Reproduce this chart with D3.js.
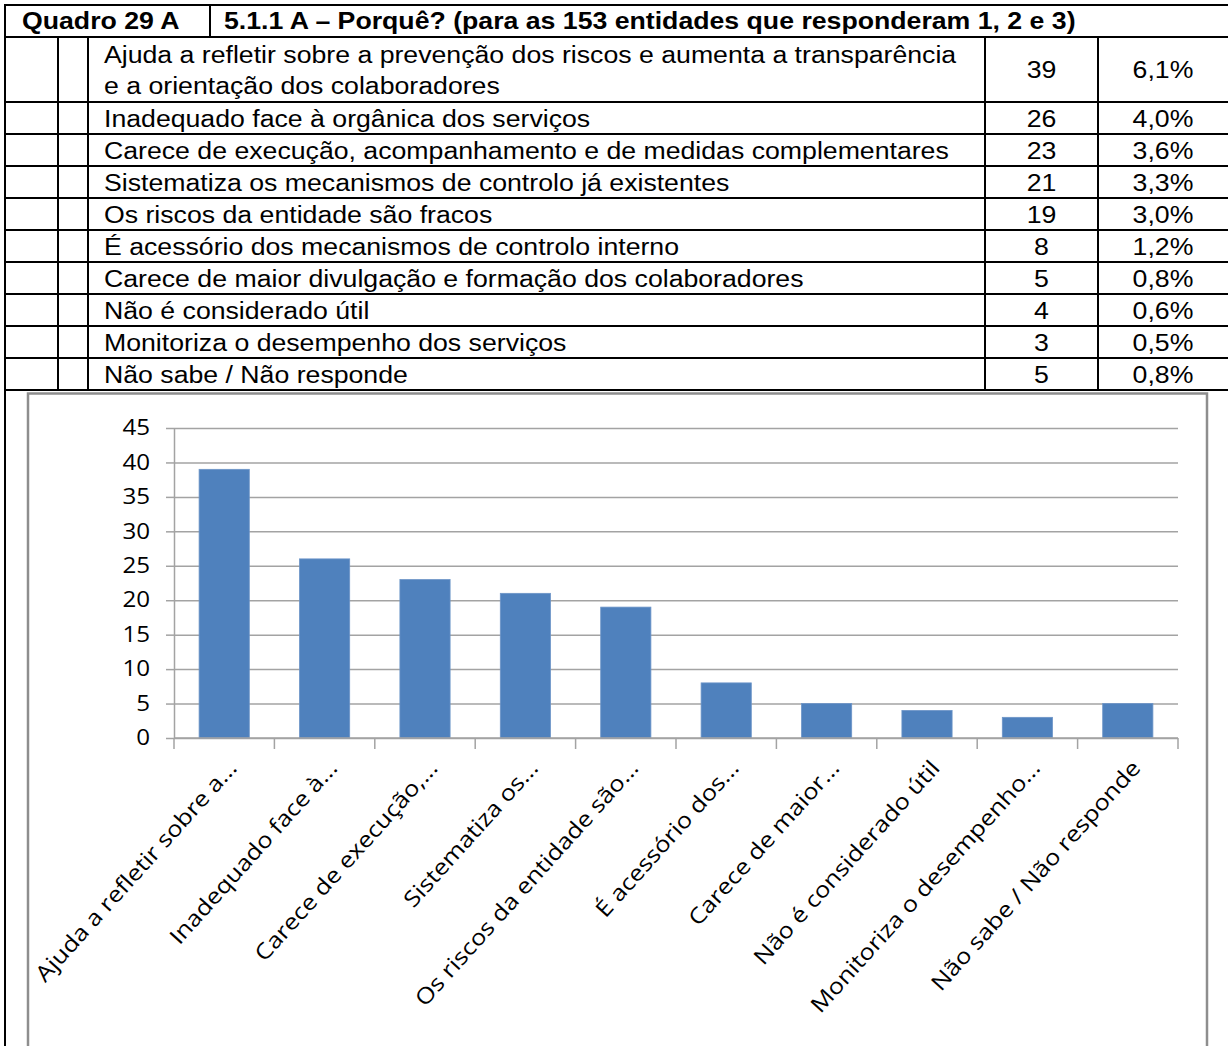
<!DOCTYPE html>
<html><head><meta charset="utf-8">
<script src="https://cdn.jsdelivr.net/npm/d3@7"></script>
<style>body{margin:0;background:#fff} svg{display:block}</style>
</head><body>
<svg id="c" width="1228" height="1046"></svg>
<script>
const tableCode = "Quadro 29 A";
const tableTitle = "5.1.1 A – Porquê? (para as 153 entidades que responderam 1, 2 e 3)";
const categories = [
  "Ajuda a refletir sobre a prevenção dos riscos e aumenta a transparência e a orientação dos colaboradores",
  "Inadequado face à orgânica dos serviços",
  "Carece de execução, acompanhamento e de medidas complementares",
  "Sistematiza os mecanismos de controlo já existentes",
  "Os riscos da entidade são fracos",
  "É acessório dos mecanismos de controlo interno",
  "Carece de maior divulgação e formação dos colaboradores",
  "Não é considerado útil",
  "Monitoriza o desempenho dos serviços",
  "Não sabe / Não responde"
];
const axisLabels = [
  "Ajuda a refletir sobre a...",
  "Inadequado face à...",
  "Carece de execução,...",
  "Sistematiza os...",
  "Os riscos da entidade são...",
  "É acessório dos...",
  "Carece de maior...",
  "Não é considerado útil",
  "Monitoriza o desempenho...",
  "Não sabe / Não responde"
];
const counts = [39, 26, 23, 21, 19, 8, 5, 4, 3, 5];
const percents = [6.1, 4.0, 3.6, 3.3, 3.0, 1.2, 0.8, 0.6, 0.5, 0.8];
const yTicks = [0, 5, 10, 15, 20, 25, 30, 35, 40, 45];

const SX = 1.16;
const svg = d3.select("#c");
const tFont = "'Liberation Sans', Arial, sans-serif";
const cFont = "'Open Sans', sans-serif";
const fmtPct = v => d3.format(".1f")(v).replace(".", ",") + "%";

function txt(g, x, y, s, o = {}) {
  return g.append("text")
    .attr("transform", `translate(${x},${y}) scale(${SX},1)`)
    .attr("text-anchor", o.anchor || "start")
    .attr("font-family", o.font || tFont)
    .attr("font-size", o.size || 23)
    .attr("font-weight", o.weight || "normal")
    .attr("fill", "#000")
    .text(s);
}
function hline(g, x1, x2, y, c = "#000", w = 2) {
  g.append("line").attr("x1", x1).attr("x2", x2).attr("y1", y).attr("y2", y).attr("stroke", c).attr("stroke-width", w);
}
function vline(g, x, y1, y2, c = "#000", w = 2) {
  g.append("line").attr("x1", x).attr("x2", x).attr("y1", y1).attr("y2", y2).attr("stroke", c).attr("stroke-width", w);
}

// ---------- TABLE ----------
const T = svg.append("g");
const L = 5, R = 1240;
const colA = 58, colB = 88, colText = 104, colVal = 985, colPct = 1098;
const headTop = 5, headBot = 37;

txt(T, 22, 29, tableCode, {weight: "bold"});
txt(T, 224, 29, tableTitle, {weight: "bold"});

const maxW = colVal - colText - 14;
const measure = svg.append("text").attr("font-family", tFont).attr("font-size", 23);
function wrap(s) {
  const words = s.split(" "); const lines = []; let cur = "";
  words.forEach(w => {
    const test = cur ? cur + " " + w : w;
    measure.text(test);
    if (measure.node().getComputedTextLength() * SX > maxW && cur) { lines.push(cur); cur = w; }
    else cur = test;
  });
  lines.push(cur); return lines;
}
let rowTop = headBot;
const rowEdges = [headBot];
categories.forEach((c, i) => {
  const lines = wrap(c);
  const h = lines.length === 1 ? 32 : 32 + 33 * (lines.length - 1);
  lines.forEach((ln, j) => txt(T, colText, rowTop + 26 + j * 31 - (lines.length > 1 ? 0 : 1), ln));
  txt(T, (colVal + colPct) / 2, rowTop + h / 2 + 8.5, String(counts[i]), {anchor: "middle"});
  txt(T, 1163, rowTop + h / 2 + 8.5, fmtPct(percents[i]), {anchor: "middle"});
  rowTop += h; rowEdges.push(rowTop);
});
measure.remove();
const tableBot = rowTop;

hline(T, L - 1, R, headTop);
rowEdges.forEach(y => hline(T, L - 1, R, y));
vline(T, L, headTop - 1, 1046);
vline(T, 210, headTop, headBot);
[colA, colB, colVal, colPct].forEach(x => vline(T, x, headBot, tableBot));

// ---------- CHART ----------
const C = svg.append("g");
C.append("rect").attr("x", 28).attr("y", tableBot + 3.5).attr("width", 1179).attr("height", 800)
  .attr("fill", "#fff").attr("stroke", "#8e8e8e").attr("stroke-width", 2.5);

const x = d3.scaleBand().domain(axisLabels).range([174, 1178]).paddingInner(0.5).paddingOuter(0.25);
const y = d3.scaleLinear().domain([0, 45]).range([738, 428]);
const gridC = "#a3a3a3";

const grid = C.append("g").attr("transform", "translate(174,0)")
  .call(d3.axisLeft(y).tickValues(yTicks).tickSize(-(1178 - 174)).tickFormat(""));
grid.select(".domain").remove();
grid.selectAll("line").attr("stroke", gridC).attr("stroke-width", 1.5);

const ya = C.append("g").attr("transform", "translate(174,0)")
  .call(d3.axisLeft(y).tickValues(yTicks).tickSize(8).tickSizeOuter(0).tickPadding(16));
ya.select(".domain").attr("stroke", gridC).attr("stroke-width", 1.5);
ya.selectAll("line").attr("stroke", gridC).attr("stroke-width", 1.5);
ya.selectAll("text").attr("x", 0).attr("transform", `translate(-24,0) scale(1.15,1)`)
  .attr("font-family", cFont).attr("font-size", 21).attr("fill", "#000");

C.selectAll("rect.bar").data(counts).join("rect").attr("class", "bar")
  .attr("x", (d, i) => x(axisLabels[i])).attr("width", x.bandwidth())
  .attr("y", d => y(d)).attr("height", d => y(0) - y(d))
  .attr("fill", "#4f81bd").attr("stroke", "#6d95c8").attr("stroke-width", 0.8);

const x0 = x.range()[0], step = x.step();
hline(C, 174, 1178, y(0), gridC, 1.5);
d3.range(axisLabels.length + 1).forEach(i => vline(C, x0 + i * step, y(0), y(0) + 11, gridC, 1.5));

axisLabels.forEach(lab => {
  const cx = x(lab) + x.bandwidth() / 2;
  C.append("text")
    .attr("transform", `translate(${cx + 14},${769}) rotate(-48) scale(1.15,1)`)
    .attr("text-anchor", "end")
    .attr("font-family", cFont).attr("font-size", 22).attr("fill", "#000")
    .text(lab);
});
</script>
</body></html>
